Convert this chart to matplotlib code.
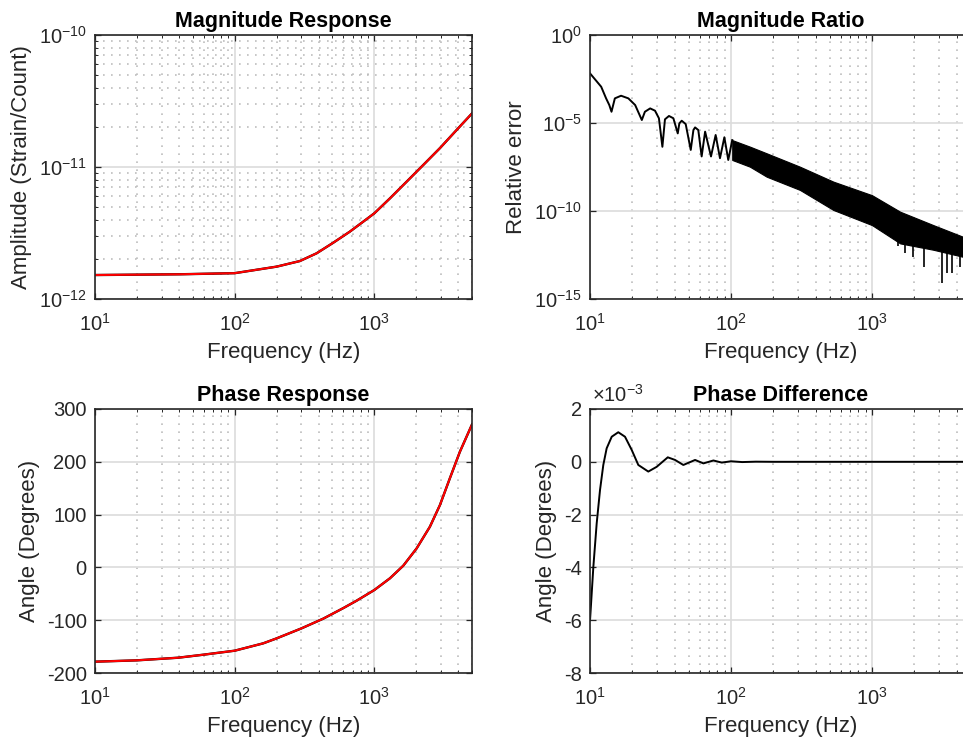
import numpy as np
import matplotlib
matplotlib.use("Agg")
import matplotlib.pyplot as plt
from matplotlib.ticker import FixedLocator, FuncFormatter, NullLocator, NullFormatter

plt.rcParams['font.family'] = ['Liberation Sans', 'DejaVu Sans']
plt.rcParams['mathtext.fontset'] = 'custom'
plt.rcParams['mathtext.rm'] = 'Liberation Sans'
plt.rcParams['mathtext.it'] = 'Liberation Sans:italic'
plt.rcParams['mathtext.bf'] = 'Liberation Sans:bold'
plt.rcParams['axes.unicode_minus'] = False

# ---------------- data ----------------
# Magnitude response (Strain/Count)
freq_mag = [10, 40.6, 100, 200, 293, 386, 508, 668, 834, 1000, 1294, 1703, 2239, 2950,
            3880, 5012]
amp_model = [1.52e-12, 1.54e-12, 1.57e-12, 1.76e-12, 1.94e-12, 2.22e-12, 2.67e-12,
             3.24e-12, 3.86e-12, 4.46e-12, 5.79e-12, 7.74e-12, 1.035e-11, 1.39e-11,
             1.905e-11, 2.55e-11]

# Phase response (degrees)
freq_ph = [10, 19.9, 39.4, 59.6, 100, 160, 200, 301, 431, 600, 747, 1000, 1294, 1611,
           2009, 2500, 2950, 3475, 4100, 5012]
phase_model = [-178.5, -176.0, -171.0, -165.3, -157.7, -143.8, -134.3, -115.4, -97.0,
               -77.0, -63.0, -42.8, -20.6, 3.2, 36.0, 77.0, 118.0, 168.7, 219.0, 271.0]

# Magnitude ratio: resolved lobes (log10 of relative error)
freq_ratio = [10, 12, 13, 13.7, 14.2, 15, 16.6, 18.7, 20.9, 23.3, 24.5, 26.7, 28.9, 30.8,
              32.6, 34.0, 36.3, 39.0, 41.9, 43.0, 44.7, 47.7, 51.8, 54.1, 55.6, 58.6,
              61.9, 65.5, 72.1, 77.8, 83.5, 89.7, 95.6, 102]
ratio_log10 = [-2.18, -2.94, -3.6, -3.98, -4.36, -3.6, -3.45, -3.6, -3.98, -4.83, -4.36,
               -4.17, -4.3, -4.73, -6.35, -4.79, -4.6, -4.73, -5.59, -5.02, -4.87, -5.06,
               -6.53, -5.4, -5.25, -5.4, -6.9, -5.49, -6.9, -5.68, -7.0, -5.81, -7.1, -5.97]
# Magnitude ratio: dense oscillation band (upper / lower envelope, log10)
band_freq = [102, 136, 179, 308, 532, 1000, 1585, 2723, 4415, 5012]
band_upper_log10 = [-5.97, -6.34, -6.72, -7.48, -8.33, -9.1, -10.04, -10.8, -11.46, -11.6]
band_lower_log10 = [-7.1, -7.48, -8.05, -8.8, -9.94, -10.8, -11.84, -12.2, -12.6, -12.8]
# Magnitude ratio: deep downward spikes
spike_freq = [1540, 1714, 1963, 2350, 3120, 3390, 3690, 4190]
spike_top_log10 = [-11.0, -11.1, -11.2, -11.3, -11.5, -11.6, -11.7, -11.8]
spike_bottom_log10 = [-12.0, -12.4, -12.6, -13.2, -14.1, -13.5, -13.5, -13.2]

# Phase difference (units of 1e-3 degrees)
freq_pd = [10, 10.56, 11.15, 11.77, 12.42, 13.12, 14.25, 15.86, 17.7, 19.75, 22.0, 25.9,
           29.7, 35.6, 40.1, 45.9, 55.6, 63.7, 75, 86, 100, 120, 150, 200, 5012]
phase_diff_e3 = [-6.0, -3.97, -2.33, -1.07, -0.12, 0.51, 0.95, 1.12, 0.95, 0.45, -0.12,
                 -0.37, -0.19, 0.17, 0.07, -0.12, 0.07, -0.06, 0.05, -0.03, 0.02, -0.01,
                 0.005, 0.0, 0.0]

xlim = (10, 5012)
xticks = [10, 100, 1000]

# ---------------- styling helpers ----------------
TXT = '#262626'
LBL = 16
TCK = 14.5
TTL = 15.5
DOTS = (0, (1, 3.8))


def pow_fmt(v, p):
    return r'$\mathregular{10^{%d}}$' % int(round(np.log10(v)))


def style(ax, yminor_grid=False):
    ax.set_xscale('log')
    ax.set_xlim(*xlim)
    ax.xaxis.set_major_locator(FixedLocator(xticks))
    minors = [m * d for d in (10, 100, 1000) for m in range(2, 10) if m * d <= xlim[1]]
    ax.xaxis.set_minor_locator(FixedLocator(minors))
    ax.xaxis.set_major_formatter(FuncFormatter(pow_fmt))
    ax.xaxis.set_minor_formatter(NullFormatter())
    for s in ax.spines.values():
        s.set_linewidth(1.2)
        s.set_color(TXT)
    ax.tick_params(which='both', direction='in', top=True, right=True,
                   colors=TXT, labelsize=TCK)
    ax.tick_params(axis='x', which='major', pad=10)
    ax.tick_params(axis='y', which='major', pad=6)
    ax.tick_params(which='major', length=4, width=0.9)
    ax.tick_params(which='minor', length=2.5, width=0.7)
    ax.set_axisbelow(True)
    ax.grid(which='major', color='#dcdcdc', lw=1.2, ls='-')
    ax.grid(which='minor', axis='x', color='#bdbdbd', lw=1.2, ls=DOTS)
    if yminor_grid:
        ax.grid(which='minor', axis='y', color='#bdbdbd', lw=1.2, ls=DOTS)
    ax.set_xlabel('Frequency (Hz)', fontsize=LBL, color=TXT, labelpad=5)


fig = plt.figure(figsize=(9.63, 7.40), dpi=100)
W = 0.3915
WR = 0.3953
H = 0.3568
ax1 = fig.add_axes([0.0987, 0.5959, W, H])
ax2 = fig.add_axes([0.6127, 0.5959, WR, H])
ax3 = fig.add_axes([0.0987, 0.0905, W, H])
ax4 = fig.add_axes([0.6127, 0.0905, WR, H])

# --- Magnitude Response ---
style(ax1, yminor_grid=True)
ax1.set_yscale('log')
ax1.set_ylim(1e-12, 1e-10)
ax1.yaxis.set_major_locator(FixedLocator([1e-12, 1e-11, 1e-10]))
ax1.yaxis.set_minor_locator(FixedLocator([m * d for d in (1e-12, 1e-11) for m in range(2, 10)]))
ax1.yaxis.set_major_formatter(FuncFormatter(pow_fmt))
ax1.yaxis.set_minor_formatter(NullFormatter())
ax1.plot(freq_mag, amp_model, color='black', lw=1.7)
ax1.plot(freq_mag, amp_model, color='#ff0000', lw=1.5)
ax1.set_title('Magnitude Response', fontsize=TTL, fontweight='bold', pad=6)
ax1.set_ylabel('Amplitude (Strain/Count)', fontsize=LBL, color=TXT, labelpad=5)

# --- Magnitude Ratio ---
style(ax2)
ax2.set_yscale('log')
ax2.set_ylim(1e-15, 1)
ax2.yaxis.set_major_locator(FixedLocator([1e-15, 1e-10, 1e-5, 1]))
ax2.yaxis.set_minor_locator(NullLocator())
ax2.yaxis.set_major_formatter(FuncFormatter(pow_fmt))
ax2.plot(freq_ratio, 10.0 ** np.array(ratio_log10), color='black', lw=1.4)
ax2.fill_between(band_freq, 10.0 ** np.array(band_lower_log10),
                 10.0 ** np.array(band_upper_log10), color='black', lw=0.8)
ax2.vlines(spike_freq, 10.0 ** np.array(spike_bottom_log10),
           10.0 ** np.array(spike_top_log10), color='black', lw=1.2)
ax2.set_title('Magnitude Ratio', fontsize=TTL, fontweight='bold', pad=6)
ax2.set_ylabel('Relative error', fontsize=LBL, color=TXT, labelpad=5)

# --- Phase Response ---
style(ax3)
ax3.set_ylim(-200, 300)
ax3.yaxis.set_major_locator(FixedLocator([-200, -100, 0, 100, 200, 300]))
ax3.yaxis.set_major_formatter(FuncFormatter(lambda v, p: '%d' % v))
ax3.plot(freq_ph, phase_model, color='black', lw=1.7)
ax3.plot(freq_ph, phase_model, color='#ff0000', lw=1.5)
ax3.set_title('Phase Response', fontsize=TTL, fontweight='bold', pad=6)
ax3.set_ylabel('Angle (Degrees)', fontsize=LBL, color=TXT, labelpad=5)

# --- Phase Difference ---
style(ax4)
ax4.set_ylim(-8, 2)
ax4.yaxis.set_major_locator(FixedLocator([-8, -6, -4, -2, 0, 2]))
ax4.yaxis.set_major_formatter(FuncFormatter(lambda v, p: '%d' % v))
ax4.plot(freq_pd, phase_diff_e3, color='black', lw=1.4)
ax4.text(0.005, 1.012, r'$\times\mathregular{10^{-3}}$', transform=ax4.transAxes,
         ha='left', va='bottom', fontsize=TCK, color=TXT)
ax4.set_title('Phase Difference', fontsize=TTL, fontweight='bold', pad=6)
ax4.set_ylabel('Angle (Degrees)', fontsize=LBL, color=TXT, labelpad=5)

fig.savefig('out.png', dpi=100)
